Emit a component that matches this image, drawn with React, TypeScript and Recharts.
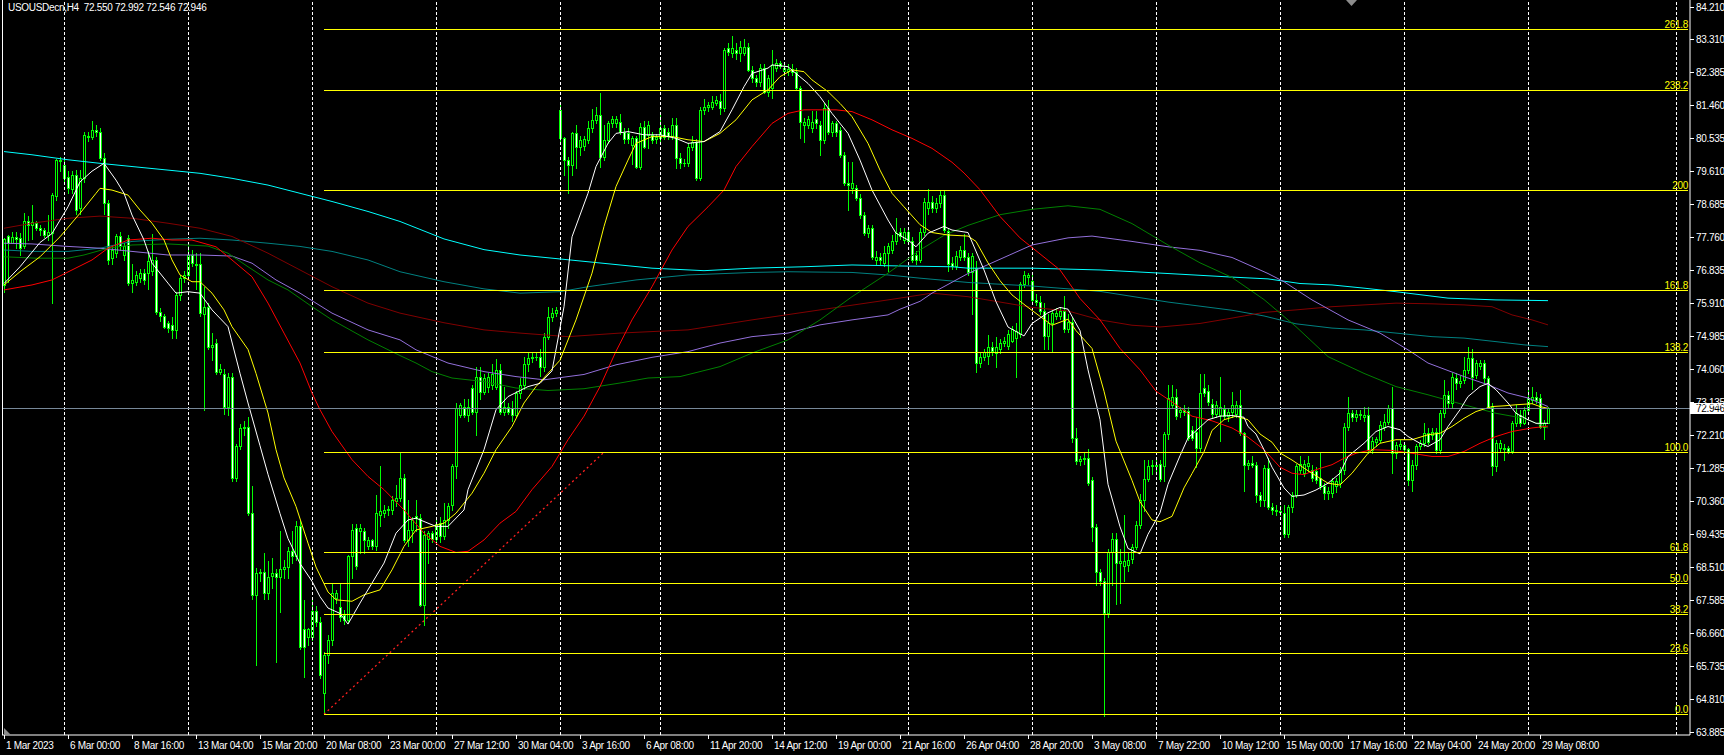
import React from 'react';
import { ComposedChart, Bar, Line, XAxis, YAxis, ReferenceLine } from 'recharts';

// H4 candles, [open, high, low, close]
const ohlc: [number, number, number, number][] = [
  [76.4, 77.72, 76.22, 77.7], [77.77, 77.81, 76.5, 77.58], [77.6, 77.9, 77.58, 77.76], [77.75, 77.9, 77.44, 77.7],
  [77.72, 77.86, 77.25, 77.44], [77.5, 78.42, 77.44, 78.19], [78.19, 78.33, 77.67, 78.1], [78.1, 78.65, 77.7, 78.18],
  [78.15, 78.2, 77.95, 78.0], [78.0, 78.1, 77.8, 77.95], [77.95, 78.0, 77.75, 77.81], [77.81, 78.37, 77.67, 77.9],
  [77.86, 79.0, 75.9, 78.93], [78.9, 79.95, 78.8, 79.92], [79.92, 80.0, 79.6, 79.88], [79.78, 79.9, 79.3, 79.4],
  [79.45, 79.6, 79.0, 79.12], [79.1, 79.6, 79.0, 79.49], [79.49, 79.63, 78.4, 78.51], [78.56, 79.63, 78.4, 79.4],
  [79.4, 80.7, 79.3, 80.62], [80.6, 80.7, 80.45, 80.55], [80.57, 81.0, 80.5, 80.76], [80.76, 80.9, 80.6, 80.7],
  [80.71, 80.8, 79.9, 79.96], [79.96, 80.1, 78.4, 78.7], [78.7, 78.8, 77.0, 77.11], [77.16, 77.5, 77.0, 77.38],
  [77.3, 77.85, 77.2, 77.77], [77.77, 77.9, 77.4, 77.49], [77.25, 77.6, 77.1, 77.49], [77.72, 77.8, 76.4, 76.46],
  [76.46, 77.0, 76.2, 76.55], [76.5, 76.8, 76.4, 76.69], [76.6, 76.85, 76.5, 76.74], [76.74, 76.85, 76.45, 76.55],
  [76.74, 77.35, 76.3, 77.07], [76.8, 77.85, 76.7, 77.1], [77.11, 77.2, 75.6, 75.66], [75.66, 75.75, 75.4, 75.55],
  [75.55, 75.6, 75.2, 75.24], [75.34, 75.4, 75.1, 75.2], [75.3, 75.5, 74.92, 75.15], [75.15, 76.2, 74.92, 76.13],
  [76.13, 76.7, 76.0, 76.6], [76.6, 76.8, 76.5, 76.69], [76.7, 77.5, 76.6, 77.25], [77.25, 77.4, 76.95, 77.02],
  [77.0, 77.3, 76.3, 76.97], [77.0, 77.3, 75.55, 75.61], [75.6, 76.36, 72.9, 75.8], [75.8, 75.9, 74.6, 74.68],
  [74.68, 75.07, 74.3, 74.73], [74.78, 74.9, 73.9, 73.98], [73.98, 74.2, 73.9, 74.05], [73.9, 74.05, 72.8, 73.0],
  [73.0, 73.95, 72.77, 73.84], [73.84, 73.95, 70.9, 70.99], [71.0, 71.95, 70.9, 71.88], [71.88, 72.5, 71.8, 72.39],
  [72.39, 72.6, 72.2, 72.44], [72.44, 72.7, 69.95, 70.01], [70.01, 70.76, 67.6, 67.72], [67.72, 68.47, 65.76, 68.33],
  [68.33, 68.45, 68.1, 68.36], [68.35, 68.9, 67.6, 67.77], [67.77, 68.66, 67.6, 68.22], [68.24, 68.75, 67.9, 68.33],
  [68.33, 68.45, 65.85, 68.22], [68.22, 69.5, 67.25, 68.44], [68.44, 68.7, 68.2, 68.5], [68.5, 69.05, 68.2, 68.94],
  [68.94, 69.5, 68.6, 68.8], [68.8, 69.8, 68.7, 69.64], [69.64, 69.8, 66.2, 66.27], [66.76, 67.58, 65.43, 66.27],
  [66.55, 66.8, 66.3, 66.76], [66.55, 67.6, 66.45, 67.28], [67.28, 67.4, 66.85, 66.95], [66.95, 67.1, 65.4, 65.47],
  [64.97, 66.13, 64.37, 66.04], [66.04, 66.6, 65.8, 66.46], [66.46, 68.05, 66.3, 67.77], [67.63, 67.85, 67.5, 67.77],
  [67.39, 68.05, 67.0, 67.11], [67.16, 67.3, 66.9, 67.02], [67.02, 68.85, 66.95, 68.8], [68.8, 69.7, 68.2, 69.54],
  [69.59, 69.7, 68.45, 68.52], [69.5, 69.7, 68.9, 69.59], [69.5, 69.6, 68.9, 69.26], [69.1, 69.35, 69.0, 69.26],
  [69.26, 69.3, 69.0, 69.08], [69.1, 70.52, 68.98, 70.01], [69.97, 71.32, 69.64, 70.06], [70.01, 70.25, 69.9, 70.1],
  [70.1, 70.2, 69.95, 70.12], [70.1, 70.5, 70.0, 70.38], [70.36, 70.8, 70.2, 70.43], [70.43, 71.69, 70.35, 71.0],
  [71.0, 71.1, 69.2, 69.26], [69.26, 70.38, 69.1, 69.54], [69.54, 69.9, 69.2, 69.82], [69.94, 70.38, 69.5, 69.88],
  [69.88, 70.0, 67.4, 67.44], [67.44, 69.5, 66.88, 69.4], [69.3, 69.5, 68.6, 69.45], [69.45, 69.5, 69.2, 69.3],
  [69.3, 69.9, 69.2, 69.7], [69.73, 69.9, 69.2, 69.36], [69.36, 70.3, 69.3, 69.82], [69.82, 70.3, 69.6, 70.2],
  [70.24, 71.4, 70.1, 71.32], [71.32, 73.1, 71.0, 72.95], [72.77, 73.1, 72.7, 73.05], [73.0, 73.2, 72.7, 72.77],
  [72.77, 73.2, 72.6, 73.0], [73.52, 73.6, 72.8, 72.86], [72.86, 74.1, 72.2, 73.84], [73.84, 74.1, 73.2, 73.42],
  [73.42, 73.9, 73.35, 73.8], [73.56, 73.95, 73.4, 73.84], [73.6, 74.2, 73.5, 73.9], [73.56, 74.32, 73.5, 74.03],
  [74.03, 74.2, 72.8, 72.86], [72.86, 73.56, 72.75, 73.0], [73.0, 73.1, 72.8, 72.84], [72.95, 73.15, 72.6, 72.77],
  [72.77, 73.45, 72.7, 73.38], [73.38, 73.8, 73.25, 73.61], [73.61, 74.4, 73.5, 74.2], [74.2, 74.5, 74.0, 74.36],
  [74.36, 74.5, 74.25, 74.4], [74.4, 74.5, 74.3, 74.38], [74.38, 74.6, 73.85, 74.1], [74.1, 75.05, 74.0, 74.96],
  [74.96, 75.8, 74.9, 75.52], [75.52, 75.75, 75.4, 75.62], [75.62, 75.8, 75.55, 75.72], [81.32, 81.55, 80.4, 80.52],
  [80.52, 80.57, 79.49, 79.92], [79.92, 80.0, 78.98, 79.78], [79.78, 80.7, 79.5, 80.66], [80.66, 80.9, 79.7, 80.29],
  [80.29, 80.6, 80.05, 80.48], [80.3, 80.6, 80.2, 80.5], [80.48, 81.0, 80.4, 80.8], [80.8, 81.35, 80.7, 81.04],
  [81.04, 81.4, 80.95, 81.18], [81.18, 81.8, 79.73, 80.01], [80.01, 80.9, 79.9, 80.48], [80.48, 81.0, 80.4, 80.94],
  [80.94, 81.15, 80.85, 81.05], [80.95, 81.15, 80.85, 81.05], [80.99, 81.2, 80.65, 80.71], [80.71, 80.8, 80.4, 80.49],
  [80.66, 80.8, 80.4, 80.49], [80.34, 80.6, 79.8, 80.52], [80.52, 80.6, 79.7, 79.73], [79.73, 80.95, 79.65, 80.85],
  [80.85, 81.0, 80.25, 80.29], [80.62, 81.0, 80.25, 80.9], [80.62, 80.7, 80.4, 80.48], [80.5, 80.65, 80.4, 80.55],
  [80.52, 81.18, 80.45, 80.8], [80.8, 80.9, 80.5, 80.57], [80.7, 80.8, 80.5, 80.6], [80.6, 81.1, 80.5, 80.9],
  [80.9, 81.08, 79.68, 79.96], [79.96, 80.1, 79.7, 79.82], [79.84, 79.95, 79.75, 79.82], [79.82, 80.4, 79.75, 80.29],
  [80.29, 80.6, 80.2, 80.43], [80.43, 80.5, 79.35, 79.4], [79.4, 81.4, 79.35, 81.32], [81.32, 81.62, 81.2, 81.39],
  [81.39, 81.55, 81.3, 81.45], [81.41, 81.7, 81.35, 81.55], [81.52, 81.7, 81.45, 81.6], [81.58, 81.76, 81.2, 81.36],
  [81.36, 83.05, 81.3, 82.99], [83.05, 83.2, 82.85, 82.95], [82.9, 83.39, 82.8, 83.05], [83.0, 83.2, 82.75, 82.9],
  [82.9, 83.25, 82.7, 83.09], [82.92, 83.3, 82.85, 83.09], [83.09, 83.2, 82.4, 82.44], [82.44, 82.55, 82.1, 82.2],
  [82.2, 82.3, 82.0, 82.11], [82.11, 82.6, 82.0, 82.49], [82.49, 82.6, 81.8, 81.83], [81.83, 82.3, 81.7, 82.2],
  [81.92, 82.99, 81.64, 82.58], [82.49, 82.75, 82.4, 82.62], [82.62, 82.7, 82.5, 82.55], [82.4, 82.6, 82.3, 82.49],
  [82.4, 82.6, 82.3, 82.47], [82.47, 82.6, 82.3, 82.38], [82.39, 82.5, 81.9, 81.92], [81.92, 82.0, 80.53, 80.99],
  [80.9, 81.1, 80.43, 80.99], [80.9, 81.15, 80.8, 81.05], [80.8, 81.3, 80.7, 80.99], [81.05, 81.3, 80.8, 80.95],
  [80.9, 81.0, 80.06, 80.48], [80.48, 81.5, 80.4, 81.36], [81.36, 81.6, 80.65, 80.71], [80.71, 81.0, 80.6, 80.94],
  [80.94, 81.0, 80.6, 80.71], [80.76, 80.85, 80.0, 80.06], [80.06, 80.15, 79.2, 79.26], [79.26, 79.87, 78.51, 79.2],
  [79.12, 79.87, 79.0, 79.26], [79.12, 79.2, 78.8, 78.84], [78.84, 78.95, 78.3, 78.37], [78.37, 78.45, 77.8, 77.86],
  [77.86, 78.1, 77.75, 78.0], [78.0, 78.1, 77.15, 77.2], [77.11, 77.35, 77.0, 77.2], [77.2, 77.3, 77.0, 77.12],
  [77.02, 77.5, 76.95, 77.3], [77.3, 77.6, 76.8, 77.49], [77.39, 77.8, 77.3, 77.63], [77.63, 78.3, 77.55, 77.86],
  [77.9, 78.0, 77.7, 77.77], [77.67, 78.0, 77.6, 77.9], [77.9, 78.0, 77.55, 77.63], [77.63, 77.75, 77.05, 77.11],
  [77.25, 77.35, 77.0, 77.11], [77.11, 78.0, 77.05, 77.9], [77.9, 78.85, 77.8, 78.74], [78.56, 79.1, 78.4, 78.74],
  [78.74, 78.9, 78.45, 78.56], [78.56, 78.85, 78.45, 78.7], [78.7, 79.05, 78.6, 78.93], [78.93, 79.05, 77.9, 77.95],
  [77.93, 78.0, 76.8, 77.0], [77.03, 77.2, 76.85, 76.93], [76.95, 77.35, 76.85, 77.23], [77.18, 77.5, 77.1, 77.38],
  [77.38, 77.84, 77.1, 77.18], [77.18, 77.3, 76.7, 76.78], [76.78, 77.3, 75.6, 77.23], [76.88, 77.08, 73.98, 74.23],
  [74.23, 74.5, 74.1, 74.38], [74.38, 74.6, 74.3, 74.53], [74.43, 75.0, 74.2, 74.68], [74.68, 74.8, 74.45, 74.55],
  [74.5, 74.95, 74.1, 74.68], [74.6, 74.9, 74.5, 74.78], [74.78, 74.95, 74.7, 74.83], [74.7, 75.15, 74.6, 75.03],
  [74.85, 75.25, 74.8, 75.18], [74.93, 75.33, 73.83, 75.13], [75.03, 76.5, 74.95, 76.43], [76.43, 76.8, 76.35, 76.68],
  [76.63, 76.75, 76.45, 76.68], [76.53, 76.7, 75.9, 75.98], [76.0, 76.15, 75.85, 75.94], [75.94, 76.1, 75.6, 75.68],
  [75.68, 75.9, 74.6, 74.97], [74.97, 75.6, 74.6, 75.33], [75.33, 75.7, 74.55, 75.63], [75.55, 75.75, 75.45, 75.63],
  [75.55, 75.8, 75.45, 75.68], [75.68, 76.1, 75.1, 75.18], [75.18, 75.6, 75.1, 75.38], [75.38, 75.5, 72.0, 72.13],
  [72.13, 72.4, 71.4, 71.48], [71.48, 71.6, 71.35, 71.52], [71.52, 71.7, 71.4, 71.55], [71.57, 71.8, 70.8, 70.87],
  [70.93, 71.03, 69.22, 69.63], [69.63, 69.7, 68.0, 68.37], [68.37, 68.45, 68.0, 68.12], [68.12, 68.2, 64.32, 67.22],
  [67.22, 69.0, 67.1, 68.93], [68.93, 69.45, 68.0, 69.28], [69.28, 69.45, 67.45, 68.62], [68.62, 69.0, 67.5, 68.67],
  [68.52, 69.95, 68.1, 68.67], [68.55, 68.9, 68.4, 68.7], [68.72, 69.15, 68.6, 69.07], [69.07, 69.8, 69.0, 69.67],
  [69.67, 70.55, 69.6, 70.37], [70.37, 71.49, 70.07, 70.97], [70.97, 71.5, 70.9, 71.33], [71.33, 71.5, 71.1, 71.35],
  [71.35, 71.55, 71.1, 71.33], [71.38, 71.5, 70.9, 70.98], [71.33, 72.3, 70.9, 72.23], [72.23, 73.6, 72.1, 73.23],
  [73.03, 73.6, 72.95, 73.28], [73.28, 73.5, 72.65, 72.73], [72.85, 73.0, 72.7, 72.91], [72.91, 73.05, 72.75, 72.85],
  [72.88, 73.0, 72.05, 72.13], [72.33, 72.45, 72.05, 72.13], [72.28, 72.7, 71.3, 71.83], [71.83, 73.9, 71.75, 73.38],
  [73.52, 73.9, 73.3, 73.38], [73.45, 73.6, 73.05, 73.12], [73.08, 73.2, 72.7, 72.79], [72.79, 73.15, 72.7, 73.03],
  [72.75, 73.83, 72.03, 73.0], [72.93, 73.05, 72.65, 72.73], [72.73, 72.95, 72.6, 72.85], [72.85, 73.42, 72.7, 73.05],
  [72.8, 73.15, 72.7, 73.05], [73.05, 73.47, 72.2, 72.25], [72.25, 72.3, 70.62, 71.37], [71.37, 71.5, 71.25, 71.42],
  [71.42, 71.6, 71.3, 71.36], [71.36, 71.45, 70.32, 70.52], [70.52, 70.6, 70.2, 70.37], [70.37, 71.35, 70.2, 71.27],
  [71.27, 71.55, 70.12, 70.17], [70.17, 70.3, 70.0, 70.1], [70.1, 70.25, 69.95, 70.07], [70.07, 70.2, 69.95, 70.05],
  [70.02, 70.25, 69.35, 69.42], [69.42, 70.25, 69.35, 70.17], [70.17, 70.6, 70.05, 70.52], [70.52, 71.4, 70.45, 71.33],
  [71.23, 71.6, 71.15, 71.38], [71.15, 71.5, 71.05, 71.38], [71.33, 71.6, 71.2, 71.43], [71.23, 71.35, 70.9, 70.99],
  [71.2, 71.3, 70.85, 70.95], [71.0, 71.72, 70.7, 70.76], [70.76, 70.85, 70.4, 70.57], [70.57, 70.75, 70.4, 70.64],
  [70.57, 71.0, 70.45, 70.9], [70.76, 71.0, 70.6, 70.9], [70.86, 71.3, 70.75, 71.23], [71.23, 72.55, 71.1, 72.44],
  [72.44, 73.28, 72.35, 72.81], [72.81, 72.9, 72.6, 72.72], [72.72, 72.9, 72.6, 72.8], [72.8, 72.9, 72.65, 72.75],
  [72.72, 73.0, 72.6, 72.77], [72.77, 73.0, 71.7, 71.79], [71.79, 72.15, 71.7, 72.02], [72.0, 72.15, 71.9, 72.09],
  [72.06, 72.6, 72.0, 72.48], [72.44, 72.8, 72.35, 72.58], [72.58, 73.05, 72.5, 72.95], [72.95, 73.56, 71.14, 71.69],
  [71.69, 72.0, 71.55, 71.93], [71.88, 72.05, 71.8, 71.95], [71.92, 72.0, 71.7, 71.8], [71.8, 71.85, 70.8, 70.95],
  [70.95, 71.5, 70.62, 71.37], [71.35, 71.95, 71.25, 71.88], [71.88, 72.05, 71.8, 71.97], [71.97, 72.53, 71.9, 72.25],
  [72.25, 72.4, 71.95, 72.0], [72.2, 72.4, 72.1, 72.3], [72.3, 72.4, 71.7, 71.79], [71.79, 72.9, 71.7, 72.81],
  [72.81, 73.75, 72.7, 73.33], [73.33, 73.45, 73.0, 73.09], [73.09, 73.95, 73.0, 73.84], [73.8, 73.95, 73.5, 73.65],
  [73.65, 73.85, 73.55, 73.72], [73.75, 74.4, 73.65, 74.03], [74.03, 74.68, 73.95, 74.36], [74.36, 74.6, 73.5, 73.84],
  [73.89, 74.3, 73.8, 74.22], [74.15, 74.3, 74.05, 74.22], [74.22, 74.3, 73.7, 73.8], [73.8, 73.85, 72.95, 73.0],
  [73.0, 73.1, 71.09, 71.32], [71.32, 72.05, 71.2, 71.97], [71.85, 72.05, 71.75, 71.97], [71.85, 71.95, 71.5, 71.8],
  [71.83, 71.9, 71.7, 71.75], [71.75, 72.6, 71.7, 72.53], [72.53, 73.05, 72.45, 72.81], [72.77, 72.9, 72.45, 72.53],
  [72.55, 73.0, 72.5, 72.91], [72.91, 73.47, 72.85, 73.24], [73.19, 73.56, 73.1, 73.28], [73.28, 73.4, 73.1, 73.19],
  [73.24, 73.35, 72.4, 72.44], [72.44, 72.63, 72.09, 72.53], [72.55, 72.992, 72.546, 72.946],
];

// moving averages, [bar index, value] read at intervals along each line
const maWhite: [number, number][] = [
  [0, 76.45], [4, 76.92], [9, 77.6], [12, 77.85], [16, 78.6], [19, 79.3], [22, 79.6], [25, 79.82], [28, 79.35], [30, 78.98],
  [32, 78.37], [35, 77.67], [37, 77.02], [41, 76.46], [43, 76.18], [46, 76.22], [49, 76.18], [52, 75.71], [56, 75.24], [59, 73.93],
  [61, 73.1], [64, 71.9], [66, 71.1], [69, 70.0], [71, 69.3], [74, 68.6], [77, 68.1], [79, 67.67], [81, 67.35], [84, 67.2],
  [86, 66.9], [89, 67.49], [92, 68.05], [95, 68.61], [98, 69.45], [101, 69.82], [103, 69.87], [106, 69.73], [108, 69.64], [111, 69.64],
  [115, 70.1], [116, 70.67], [120, 71.79], [123, 72.91], [126, 73.28], [131, 73.56], [134, 73.65], [137, 74.0], [139, 75.2], [140, 75.8],
  [142, 77.76], [146, 78.98], [148, 79.73], [151, 80.38], [153, 80.66], [156, 80.71], [160, 80.62], [164, 80.62], [168, 80.52], [171, 80.38],
  [175, 80.43], [179, 80.71], [182, 81.32], [185, 81.97], [187, 82.34], [191, 82.49], [192, 82.58], [196, 82.53], [198, 82.34], [201, 82.06],
  [204, 81.69], [207, 81.22], [211, 80.66], [214, 79.91], [217, 79.07], [221, 78.23], [223, 77.86], [226, 77.67], [228, 77.48], [231, 77.86],
  [235, 78.05], [237, 77.95], [241, 77.88], [245, 76.83], [248, 75.94], [251, 75.23], [255, 74.98], [257, 75.33], [261, 75.63], [264, 75.78],
  [266, 75.73], [269, 75.13], [271, 74.03], [274, 72.63], [276, 70.82], [279, 69.63], [281, 69.02], [284, 68.87], [286, 69.42], [289, 70.02],
  [291, 70.82], [294, 71.62], [296, 72.12], [299, 72.42], [301, 72.63], [304, 72.73], [307, 72.75], [310, 72.7], [311, 72.44], [313, 72.23],
  [315, 71.79], [317, 71.3], [320, 70.72], [322, 70.48], [325, 70.52], [328, 70.66], [331, 70.85], [334, 71.13], [336, 71.6], [340, 71.97],
  [343, 72.3], [346, 72.44], [349, 72.35], [351, 72.16], [354, 71.97], [356, 71.88], [359, 72.07], [361, 72.44], [364, 72.91], [366, 73.28],
  [369, 73.56], [371, 73.65], [373, 73.47], [376, 73.1], [378, 72.81], [381, 72.63], [383, 72.53], [386, 72.53],
];
const maYellow: [number, number][] = [
  [0, 76.41], [4, 76.78], [9, 77.2], [14, 77.76], [19, 78.42], [23, 78.98], [24, 79.12], [27, 79.07], [31, 78.93], [34, 78.51],
  [37, 78.14], [40, 77.67], [42, 77.11], [44, 76.69], [47, 76.5], [49, 76.5], [52, 76.18], [55, 75.71], [57, 75.24], [61, 74.6],
  [63, 73.93], [65, 73.19], [66, 72.82], [68, 71.79], [70, 71.0], [73, 70.2], [76, 69.17], [78, 68.5], [81, 67.8], [83, 67.58],
  [87, 67.54], [90, 67.72], [94, 67.86], [97, 68.42], [100, 69.08], [103, 69.54], [107, 69.64], [110, 69.73], [113, 70.01], [117, 70.57],
  [120, 71.13], [123, 71.79], [127, 72.44], [130, 73.1], [133, 73.56], [136, 73.93], [139, 74.3], [143, 75.43], [147, 76.74], [150, 78.05],
  [153, 79.17], [156, 79.91], [158, 80.38], [162, 80.57], [167, 80.57], [171, 80.48], [175, 80.43], [179, 80.66], [183, 81.04], [187, 81.6],
  [191, 81.88], [194, 82.25], [197, 82.44], [200, 82.39], [202, 82.16], [206, 81.83], [209, 81.5], [212, 81.13], [216, 80.38], [219, 79.63],
  [222, 78.98], [225, 78.6], [229, 78.1], [232, 77.88], [236, 77.81], [241, 77.78], [243, 77.63], [246, 77.03], [249, 76.53], [252, 76.13],
  [256, 75.78], [259, 75.53], [262, 75.28], [266, 75.45], [268, 75.13], [272, 74.63], [275, 73.43], [278, 72.03], [282, 70.93], [284, 70.33],
  [287, 69.82], [289, 69.77], [292, 69.92], [295, 70.72], [297, 71.12], [300, 71.73], [302, 72.33], [305, 72.63], [308, 72.73], [311, 72.63],
  [314, 72.23], [317, 72.0], [319, 71.7], [322, 71.5], [326, 71.2], [331, 70.85], [334, 70.8], [337, 71.13], [341, 71.69], [344, 71.97],
  [348, 72.07], [352, 72.07], [356, 72.21], [359, 72.25], [362, 72.44], [365, 72.67], [368, 72.86], [372, 73.0], [375, 73.02], [378, 73.05],
  [382, 73.08], [384, 73.0], [386, 72.95],
];
const maRed: [number, number][] = [
  [0, 76.27], [7, 76.41], [12, 76.55], [17, 76.83], [22, 77.11], [26, 77.44], [31, 77.67], [37, 77.72], [42, 77.67], [47, 77.67],
  [53, 77.48], [57, 77.11], [62, 76.64], [66, 75.9], [70, 75.06], [74, 74.22], [77, 73.38], [79, 72.91], [82, 72.3], [87, 71.51],
  [91, 71.04], [95, 70.67], [100, 70.1], [105, 69.45], [109, 69.08], [113, 68.91], [116, 68.94], [120, 69.26], [124, 69.73], [128, 70.06],
  [132, 70.67], [137, 71.32], [141, 72.07], [145, 72.73], [149, 73.56], [153, 74.55], [157, 75.43], [162, 76.36], [167, 77.39], [171, 78.05],
  [176, 78.6], [180, 79.07], [183, 79.73], [187, 80.29], [192, 80.94], [196, 81.22], [200, 81.32], [208, 81.32], [212, 81.27], [217, 81.04],
  [222, 80.76], [227, 80.52], [232, 80.24], [237, 79.85], [240, 79.55], [244, 79.08], [249, 78.33], [254, 77.73], [259, 77.28], [264, 76.83],
  [269, 76.03], [274, 75.43], [279, 74.63], [284, 74.03], [288, 73.43], [292, 73.13], [297, 72.73], [302, 72.6], [307, 72.4], [311, 72.14],
  [315, 71.79], [319, 71.3], [322, 71.13], [325, 71.09], [328, 71.23], [332, 71.37], [335, 71.55], [338, 71.69], [342, 71.79], [347, 71.77],
  [352, 71.69], [357, 71.6], [361, 71.6], [365, 71.74], [369, 71.97], [373, 72.16], [377, 72.3], [382, 72.4], [386, 72.45],
];
const maGreen: [number, number][] = [
  [0, 77.2], [8, 77.16], [16, 77.16], [20, 77.25], [26, 77.44], [32, 77.53], [41, 77.56], [46, 77.53], [51, 77.5], [56, 77.3],
  [61, 76.92], [66, 76.55], [71, 76.27], [77, 75.8], [82, 75.43], [91, 74.87], [99, 74.43], [103, 74.22], [107, 73.98], [112, 73.8],
  [120, 73.7], [128, 73.52], [136, 73.45], [145, 73.5], [154, 73.66], [161, 73.8], [169, 73.84], [179, 74.12], [187, 74.5], [196, 74.87],
  [204, 75.43], [212, 76.08], [221, 76.74], [229, 77.39], [235, 77.8], [241, 78.08], [249, 78.38], [257, 78.53], [266, 78.63], [274, 78.53],
  [282, 78.13], [291, 77.53], [299, 77.03], [307, 76.62], [315, 76.0], [323, 75.24], [331, 74.4], [340, 73.93], [348, 73.56], [356, 73.33],
  [365, 73.05], [373, 72.81], [380, 72.67], [386, 72.4],
];
const maPurple: [number, number][] = [
  [0, 77.58], [7, 77.56], [16, 77.49], [24, 77.44], [32, 77.35], [41, 77.25], [49, 77.25], [57, 77.22], [62, 77.02], [68, 76.55],
  [74, 76.18], [82, 75.62], [91, 75.15], [99, 74.87], [103, 74.59], [111, 74.22], [120, 73.98], [128, 73.84], [135, 73.75], [145, 73.9],
  [153, 74.17], [162, 74.38], [171, 74.54], [179, 74.78], [187, 74.96], [196, 75.06], [204, 75.29], [212, 75.43], [221, 75.57], [224, 75.73],
  [229, 75.95], [232, 76.18], [241, 76.73], [249, 77.13], [257, 77.53], [266, 77.73], [272, 77.78], [282, 77.63], [291, 77.48], [299, 77.38],
  [307, 77.18], [316, 76.73], [320, 76.5], [327, 75.99], [336, 75.43], [344, 75.06], [351, 74.59], [356, 74.22], [365, 73.84], [371, 73.61],
  [376, 73.38], [381, 73.24], [386, 73.0],
];
const maMaroon: [number, number][] = [
  [0, 78.0], [7, 78.14], [16, 78.28], [24, 78.34], [32, 78.28], [41, 78.14], [49, 78.0], [57, 77.77], [66, 77.3], [74, 76.83],
  [82, 76.36], [91, 75.9], [99, 75.62], [110, 75.35], [120, 75.15], [129, 75.06], [141, 74.96], [154, 75.06], [171, 75.15], [187, 75.43],
  [204, 75.71], [221, 75.99], [232, 76.18], [241, 76.08], [249, 75.93], [257, 75.78], [266, 75.68], [274, 75.43], [282, 75.28], [289, 75.23],
  [299, 75.33], [307, 75.48], [315, 75.64], [323, 75.71], [332, 75.8], [340, 75.85], [348, 75.9], [357, 75.88], [365, 75.85], [372, 75.8],
  [377, 75.57], [382, 75.43], [386, 75.29],
];
const maTeal: [number, number][] = [
  [0, 77.39], [7, 77.35], [16, 77.35], [24, 77.44], [32, 77.63], [41, 77.69], [49, 77.72], [57, 77.67], [66, 77.58], [74, 77.49],
  [82, 77.35], [91, 77.11], [99, 76.78], [110, 76.5], [120, 76.3], [129, 76.18], [139, 76.22], [146, 76.36], [158, 76.55], [171, 76.69],
  [187, 76.76], [196, 76.78], [212, 76.76], [221, 76.69], [229, 76.6], [237, 76.52], [241, 76.48], [257, 76.38], [274, 76.23], [291, 75.93],
  [307, 75.7], [315, 75.54], [323, 75.32], [332, 75.2], [340, 75.15], [348, 75.06], [357, 74.96], [365, 74.92], [373, 74.82], [380, 74.73],
  [386, 74.68],
];
const maCyan: [number, number][] = [
  [0, 80.15], [7, 80.06], [16, 79.92], [24, 79.82], [32, 79.73], [41, 79.63], [49, 79.54], [57, 79.4], [66, 79.21], [74, 78.98],
  [82, 78.75], [91, 78.47], [99, 78.19], [110, 77.7], [120, 77.4], [129, 77.25], [146, 77.06], [162, 76.88], [175, 76.81], [187, 76.88],
  [200, 76.92], [212, 76.97], [225, 76.94], [237, 76.92], [241, 76.88], [257, 76.88], [274, 76.83], [291, 76.73], [307, 76.63], [316, 76.58],
  [324, 76.45], [332, 76.41], [340, 76.32], [348, 76.22], [361, 76.04], [373, 75.99], [386, 75.97],
];

const timeLabels = [
  '1 Mar 2023', '6 Mar 00:00', '8 Mar 16:00', '13 Mar 04:00', '15 Mar 20:00', '20 Mar 08:00', '23 Mar 00:00',
  '27 Mar 12:00', '30 Mar 04:00', '3 Apr 16:00', '6 Apr 08:00', '11 Apr 20:00', '14 Apr 12:00', '19 Apr 00:00',
  '21 Apr 16:00', '26 Apr 04:00', '28 Apr 20:00', '3 May 08:00', '7 May 22:00', '10 May 12:00', '15 May 00:00',
  '17 May 16:00', '22 May 04:00', '24 May 20:00', '29 May 08:00',
];
const timeTickBars = [0, 16, 32, 48, 64, 80, 96, 112, 128, 144, 160, 176, 192, 208, 224, 240, 256, 272, 288, 304, 320, 336, 352, 368, 384];
const weekBars = [15, 46, 77, 108, 139, 164, 195, 226, 257, 288, 319, 350, 381, 418];

const priceTicks = [
  84.21, 83.31, 82.385, 81.46, 80.535, 79.61, 78.685, 77.76, 76.835, 75.91, 74.985, 74.06,
  73.135, 72.21, 71.285, 70.36, 69.435, 68.51, 67.585, 66.66, 65.735, 64.81, 63.885,
];

const fibLabels = ['0.0', '23.6', '38.2', '50.0', '61.8', '100.0', '138.2', '161.8', '200', '238.2', '261.8'];
const fibPrices = [64.37, 66.1, 67.18, 68.04, 68.91, 71.72, 74.52, 76.26, 79.06, 81.87, 83.6];
const fibStartBar = 80;
const fibTrendEnd = { bar: 150, price: 71.72 };
const bidPrice = 72.946;
const title = 'USOUSDecn,H4  72.550 72.992 72.546 72.946';

const TOTAL_SLOTS = 422;
const FONT = "'Liberation Sans', Arial, sans-serif";

const maSeries: { key: string; points: [number, number][]; color: string }[] = [
  { key: 'cyan', points: maCyan, color: '#00ffff' },
  { key: 'teal', points: maTeal, color: '#008080' },
  { key: 'maroon', points: maMaroon, color: '#800000' },
  { key: 'purple', points: maPurple, color: '#9370db' },
  { key: 'green', points: maGreen, color: '#008000' },
  { key: 'red', points: maRed, color: '#ff0000' },
  { key: 'yellow', points: maYellow, color: '#ffff00' },
  { key: 'white', points: maWhite, color: '#ffffff' },
];

const rows: any[] = Array.from({ length: TOTAL_SLOTS }, (_, i) => {
  const c = ohlc[i];
  return c
    ? { i, o: c[0], h: c[1], l: c[2], c: c[3], range: [c[2], c[1]] }
    : { i };
});
maSeries.forEach((s) => s.points.forEach(([i, v]) => { rows[i][s.key] = v; }));

const Candle = (props: any) => {
  const { x, y, width, height, payload } = props;
  if (!payload || payload.o == null || height == null) return null;
  const { o, h, l, c } = payload;
  const top = Math.min(y, y + height);
  const k = Math.abs(height) / (h - l);
  const py = (v: number) => Math.round(top + (h - v) * k);
  const cx = Math.round(x + width / 2);
  const yH = py(h);
  const yL = py(l);
  const bTop = Math.min(py(o), py(c));
  const bBot = Math.max(py(o), py(c));
  return (
    <g>
      <rect x={cx} y={yH} width={1} height={Math.max(1, yL - yH + 1)} fill="#00ff00" />
      <rect x={cx - 1} y={bTop} width={3} height={bBot - bTop + 1} fill="#00ff00" />
      {bBot - bTop >= 2 && (
        <rect x={cx} y={bTop + 1} width={1} height={bBot - bTop - 1} fill={c > o ? '#000000' : '#ffffff'} />
      )}
    </g>
  );
};

const TimeTick = (props: any) => {
  const { x, payload } = props;
  const idx = timeTickBars.indexOf(Number(payload.value));
  if (idx < 0) return null;
  const px = Math.round(x) + 0.5;
  return (
    <g>
      <line x1={px} y1={735} x2={px} y2={739} stroke="#ffffff" />
      <text x={px + 1.5} y={749} fill="#ffffff" fontSize={10} fontFamily={FONT} letterSpacing={-0.3}>
        {timeLabels[idx]}
      </text>
    </g>
  );
};

const PriceTick = (props: any) => {
  const { x, y, payload } = props;
  const py = Math.round(y) + 0.5;
  return (
    <g>
      <line x1={x} y1={py} x2={x + 4} y2={py} stroke="#ffffff" />
      <text x={x + 6} y={py + 3.5} fill="#ffffff" fontSize={10} fontFamily={FONT} letterSpacing={-0.3}>
        {Number(payload.value).toFixed(3)}
      </text>
    </g>
  );
};

const CrispH = (props: any) => {
  const { x1, x2, y1, stroke, strokeDasharray } = props;
  if (x1 == null || y1 == null) return null;
  const py = Math.round(y1) + 0.5;
  return <line x1={x1} x2={x2} y1={py} y2={py} stroke={stroke} strokeDasharray={strokeDasharray} />;
};

const CrispV = (props: any) => {
  const { x1, y1, y2, stroke, strokeDasharray } = props;
  if (x1 == null) return null;
  const px = Math.round(x1) + 0.5;
  return <line x1={px} x2={px} y1={y1} y2={y2} stroke={stroke} strokeDasharray={strokeDasharray} />;
};

const FibLabel = (props: any) => {
  const vb = props.viewBox || {};
  const x = (vb.x ?? 0) + (vb.width ?? 0);
  const y = Math.round(vb.y ?? 0);
  return (
    <text x={x} y={y - 1} textAnchor="end" fill="#ffff00" fontSize={10} fontFamily={FONT} letterSpacing={-0.3}>
      {props.text}
    </text>
  );
};

const BidLabel = (props: any) => {
  const vb = props.viewBox || {};
  const x = (vb.x ?? 0) + (vb.width ?? 0);
  const y = Math.round(vb.y ?? 0);
  return (
    <g>
      <rect x={x} y={y - 5} width={34} height={11} fill="#ffffff" />
      <text x={x + 6} y={y + 4} fill="#000000" fontSize={10} fontFamily={FONT} letterSpacing={-0.3}>
        {bidPrice.toFixed(3)}
      </text>
    </g>
  );
};

export default function App() {
  return (
    <div style={{ position: 'absolute', left: 0, top: 0, width: 1724, height: 755, background: '#000000', overflow: 'hidden' }}>
      <ComposedChart
        width={1724}
        height={755}
        data={rows}
        margin={{ top: 0, right: 0, bottom: 0, left: 2 }}
        barCategoryGap="10%"
      >
        <XAxis
          dataKey="i"
          type="category"
          ticks={timeTickBars}
          interval={0}
          height={20}
          tickLine={false}
          axisLine={{ stroke: '#ffffff' }}
          tick={<TimeTick />}
        />
        <YAxis
          orientation="right"
          type="number"
          width={34}
          domain={[63.79, 84.4]}
          allowDataOverflow
          ticks={priceTicks}
          interval={0}
          tickLine={false}
          tickSize={0}
          tickMargin={0}
          axisLine={{ stroke: '#ffffff' }}
          tick={<PriceTick />}
        />
        {weekBars.map((b) => (
          <ReferenceLine key={'w' + b} x={b} stroke="#ffffff" strokeDasharray="3 2" shape={<CrispV />} ifOverflow="visible" />
        ))}
        <Bar dataKey="range" shape={<Candle />} isAnimationActive={false} />
        {maSeries.map((s) => (
          <Line
            key={s.key}
            dataKey={s.key}
            stroke={s.color}
            strokeWidth={1}
            dot={false}
            activeDot={false}
            connectNulls
            isAnimationActive={false}
          />
        ))}
        <ReferenceLine
          segment={[{ x: fibStartBar, y: fibPrices[0] }, { x: fibTrendEnd.bar, y: fibTrendEnd.price }]}
          stroke="#ff2020"
          strokeWidth={1.3}
          strokeDasharray="2 3"
        />
        {fibPrices.map((p, k) => (
          <ReferenceLine
            key={'f' + k}
            segment={[{ x: fibStartBar, y: p }, { x: TOTAL_SLOTS - 1, y: p }]}
            stroke="#ffff00"
            shape={<CrispH />}
            label={<FibLabel text={fibLabels[k]} />}
          />
        ))}
        <ReferenceLine y={bidPrice} stroke="#778899" shape={<CrispH />} label={<BidLabel />} />
      </ComposedChart>
      <div
        style={{
          position: 'absolute', left: 8, top: 2, color: '#ffffff', fontSize: 10, lineHeight: '12px',
          fontFamily: FONT, letterSpacing: -0.3, whiteSpace: 'pre',
        }}
      >
        {title}
      </div>
      <svg width={1724} height={755} style={{ position: 'absolute', left: 0, top: 0, pointerEvents: 'none' }}>
        <line x1={2.5} y1={0} x2={2.5} y2={735} stroke="#ffffff" />
        <polygon points="1346,0 1357,0 1351.5,6" fill="#8c8c8c" />
        <polygon points="4,728 4,735 11,735" fill="#8c8c8c" />
      </svg>
    </div>
  );
}
